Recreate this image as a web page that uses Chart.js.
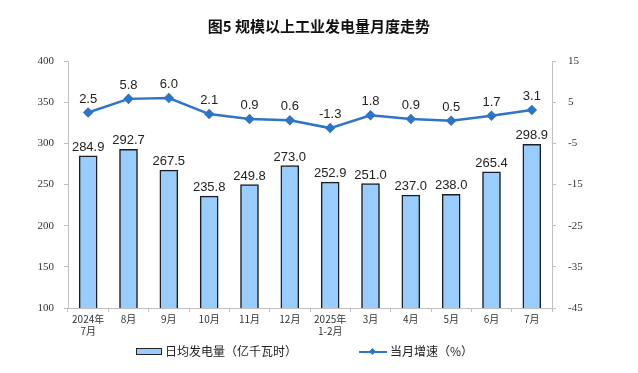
<!DOCTYPE html>
<html lang="zh">
<head>
<meta charset="utf-8" />
<title>规模以上工业发电量月度走势</title>
<script src="https://cdn.jsdelivr.net/npm/chart.js@4/dist/chart.umd.min.js"></script>
<style>
    html, body { margin: 0; padding: 0; background: #fff; }
    #wrap { position: relative; width: 638px; height: 373px; }
    #title {
        position: absolute; left: 0; top: 15px; width: 638px; text-align: center;
        font: bold 15px "Noto Sans CJK SC", sans-serif; color: #111;
    }
    #legend {
        position: absolute; top: 341px; left: 0; width: 638px; height: 20px;
        font: 12px "Noto Sans CJK SC", sans-serif; color: #222;
    }
    .item { position: absolute; top: 0; line-height: 20px; white-space: nowrap; }
    .box {
        display: inline-block; width: 24px; height: 5px; vertical-align: middle;
        background: #99ccff; border: 1.5px solid #222; margin-right: 3px; position: relative; top: -1px;
    }
    .line {
        display: inline-block; width: 28px; height: 2px; vertical-align: middle;
        background: #2e75c6; margin-right: 3px; position: relative; top: -1px;
    }
    .line::after {
        content: ""; position: absolute; left: 11px; top: -2px; width: 5px; height: 5px;
        background: #2e75c6; transform: rotate(45deg);
    }
</style>
</head>
<body>
<div id="wrap">
    <canvas id="chart" width="638" height="373"></canvas>
    <div id="title">图5 规模以上工业发电量月度走势</div>
    <div id="legend">
        <span class="item" style="left:136px"><span class="box"></span>日均发电量（亿千瓦时）</span>
        <span class="item" style="left:359px"><span class="line"></span>当月增速（%）</span>
    </div>
</div>

<script>
    // data
    var months = [["2024年", "7月"], "8月", "9月", "10月", "11月", "12月", ["2025年", "1-2月"], "3月", "4月", "5月", "6月", "7月"];
    var dailyOutput = [284.9, 292.7, 267.5, 235.8, 249.8, 273.0, 252.9, 251.0, 237.0, 238.0, 265.4, 298.9];
    var growthRate = [2.5, 5.8, 6.0, 2.1, 0.9, 0.6, -1.3, 1.8, 0.9, 0.5, 1.7, 3.1];

    // simple value labels (no datalabels plugin available)
    var valueLabels = {
        id: 'valueLabels',
        afterDatasetsDraw: function (chart) {
            var ctx = chart.ctx;
            ctx.save();
            ctx.font = '13px "Liberation Sans", Arial, sans-serif';
            ctx.fillStyle = '#222';
            ctx.textAlign = 'center';
            ctx.textBaseline = 'bottom';
            chart.data.datasets.forEach(function (ds, i) {
                var meta = chart.getDatasetMeta(i);
                meta.data.forEach(function (el, j) {
                    var off = ds.type === 'line' ? 7 : 2;
                    ctx.fillText(ds.data[j].toFixed(1), el.x, el.y - off);
                });
            });
            ctx.restore();
        }
    };

    var tickFont = { family: '"Liberation Serif", "Times New Roman", serif', size: 11 };

    new Chart(document.getElementById('chart'), {
        data: {
            labels: months,
            datasets: [
                {
                    type: 'line',
                    label: '当月增速（%）',
                    data: growthRate,
                    yAxisID: 'y2',
                    borderColor: '#2e75c6',
                    backgroundColor: '#2e75c6',
                    borderWidth: 2.5,
                    pointStyle: 'rectRot',
                    pointRadius: 3.5,
                    tension: 0,
                    order: 0
                },
                {
                    type: 'bar',
                    label: '日均发电量（亿千瓦时）',
                    data: dailyOutput,
                    yAxisID: 'y',
                    backgroundColor: '#99ccff',
                    borderColor: '#1f1f1f',
                    borderWidth: 1.5,
                    barThickness: 18,
                    order: 1
                }
            ]
        },
        options: {
            responsive: false,
            animation: false,
            layout: { padding: { top: 61, left: 0, right: 0, bottom: 0 } },
            plugins: {
                legend: { display: false },
                title: { display: false },
                tooltip: { enabled: false }
            },
            scales: {
                x: {
                    offset: true,
                    grid: { display: true, drawOnChartArea: false, offset: true, tickLength: 4, color: '#bfbfbf' },
                    border: { color: '#bfbfbf' },
                    ticks: {
                        color: '#333',
                        font: { family: '"Noto Sans CJK SC", sans-serif', size: 10 },
                        padding: 1,
                        maxRotation: 0,
                        autoSkip: false
                    },
                    afterFit: function (s) { s.height = 65; }
                },
                y: {
                    position: 'left',
                    min: 100, max: 400,
                    grid: { display: true, drawOnChartArea: false, tickLength: 4, color: '#bfbfbf' },
                    border: { color: '#bfbfbf' },
                    ticks: { stepSize: 50, color: '#333', font: tickFont, padding: 10 },
                    afterFit: function (s) { s.width = 68; }
                },
                y2: {
                    position: 'right',
                    min: -45, max: 15,
                    grid: { display: true, drawOnChartArea: false, tickLength: 4, color: '#bfbfbf' },
                    border: { color: '#bfbfbf' },
                    ticks: { stepSize: 10, color: '#333', font: tickFont, padding: 12 },
                    afterFit: function (s) { s.width = 86; }
                }
            }
        },
        plugins: [valueLabels]
    });
</script>
</body>
</html>
